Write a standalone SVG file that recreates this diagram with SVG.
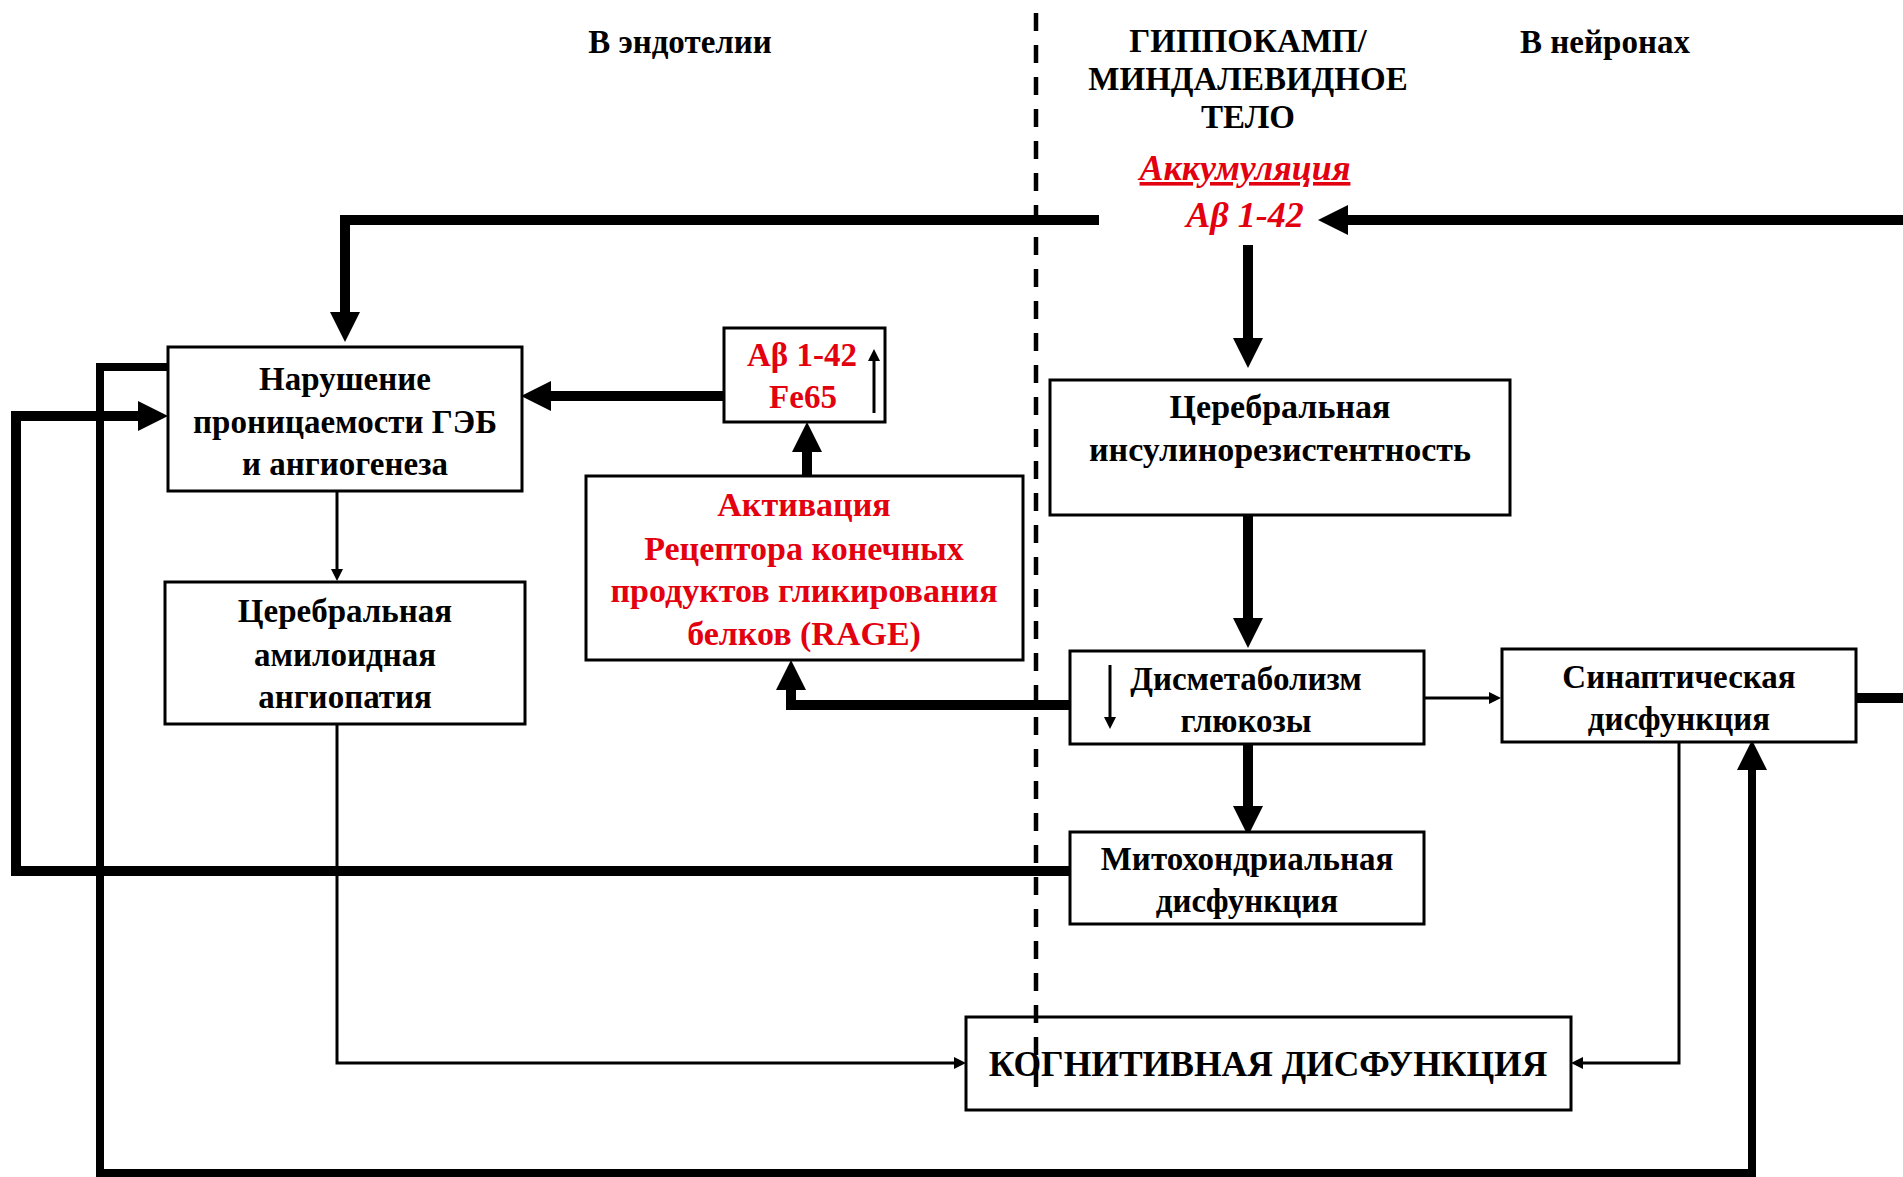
<svg xmlns="http://www.w3.org/2000/svg" width="1903" height="1177" viewBox="0 0 1903 1177">
<defs>
<style>
.t{font-family:"Liberation Serif","Times New Roman",serif;font-weight:bold;font-size:33px;fill:#000;text-anchor:middle}
.r{fill:#e3000f}
.s34{font-size:34px}
.it{font-size:36px;font-style:italic}
.big{font-size:35.5px}
.box{fill:#fff;stroke:#000;stroke-width:3}
.thick{fill:none;stroke:#000;stroke-width:10}
.mid{fill:none;stroke:#000;stroke-width:8}
.thin{fill:none;stroke:#000;stroke-width:3}
</style>
<marker id="ah" viewBox="0 0 30 30" refX="0" refY="15" markerWidth="30" markerHeight="30" markerUnits="userSpaceOnUse" orient="auto"><path d="M0,0 L30,15 L0,30 z" fill="#000"/></marker>
<marker id="as" viewBox="0 0 12 12" refX="0" refY="6" markerWidth="12" markerHeight="12" markerUnits="userSpaceOnUse" orient="auto"><path d="M0,0 L12,6 L0,12 z" fill="#000"/></marker>
</defs>
<rect width="1903" height="1177" fill="#fff"/>

<g id="headers">
<text class="t" x="680" y="53">В эндотелии</text>
<text class="t" x="1248" y="52">ГИППОКАМП/</text>
<text class="t" x="1248" y="90">МИНДАЛЕВИДНОЕ</text>
<text class="t" x="1248" y="128">ТЕЛО</text>
<text class="t" x="1605" y="53">В нейронах</text>
</g>

<g id="connectors">
<path class="thick" d="M1099,220 H345 V312" marker-end="url(#ah)"/>
<path class="thick" d="M1903,220 H1348" marker-end="url(#ah)"/>
<path class="thick" d="M1248,245 V338" marker-end="url(#ah)"/>
<path class="thick" d="M724,396 H551" marker-end="url(#ah)"/>
<path class="thick" d="M807,476 V452" marker-end="url(#ah)"/>
<path class="thick" d="M1070,705 H791 V690" marker-end="url(#ah)"/>
<path class="thin" d="M337,491 V569" marker-end="url(#as)"/>
<path class="thin" d="M337,724 V1063 H954" marker-end="url(#as)"/>
<path class="thick" d="M1248,515 V618" marker-end="url(#ah)"/>
<path class="thick" d="M1248,744 V806" marker-end="url(#ah)"/>
<path class="thin" d="M1424,698 H1489" marker-end="url(#as)"/>
<path class="thick" d="M1856,698 H1903"/>
<path class="thin" d="M1679,742 V1063 H1583" marker-end="url(#as)"/>
<path class="thick" d="M1070,871 H16 V416 H138" marker-end="url(#ah)"/>
<path class="mid" d="M168,367 H100 V1173 H1752 V770" marker-end="url(#ah)"/>
</g>

<g id="accum">
<text class="t r it" x="1245" y="180" text-decoration="underline">Аккумуляция</text>
<text class="t r it" x="1245" y="227">Aβ 1-42</text>
</g>

<g id="bbb">
<rect class="box" x="168" y="347" width="354" height="144"/>
<text class="t" x="345" y="390">Нарушение</text>
<text class="t" x="345" y="433">проницаемости ГЭБ</text>
<text class="t" x="345" y="475">и ангиогенеза</text>
</g>

<g id="abeta">
<rect class="box" x="724" y="328" width="161" height="94"/>
<text class="t r" x="802" y="366">Aβ 1-42</text>
<text class="t r" x="803" y="408">Fe65</text>
<path class="thin" d="M874,413 V361" marker-end="url(#as)"/>
</g>

<g id="rage">
<rect class="box" x="586" y="476" width="437" height="184"/>
<text class="t r s34" x="804" y="516">Активация</text>
<text class="t r s34" x="804" y="560">Рецептора конечных</text>
<text class="t r s34" x="804" y="602">продуктов гликирования</text>
<text class="t r s34" x="804" y="645">белков (RAGE)</text>
</g>

<g id="amyloid">
<rect class="box" x="165" y="582" width="360" height="142"/>
<text class="t" x="345" y="622">Церебральная</text>
<text class="t" x="345" y="666">амилоидная</text>
<text class="t" x="345" y="708">ангиопатия</text>
</g>

<g id="insulin">
<rect class="box" x="1050" y="380" width="460" height="135"/>
<text class="t s34" x="1280" y="418">Церебральная</text>
<text class="t s34" x="1280" y="461">инсулинорезистентность</text>
</g>

<g id="glucose">
<rect class="box" x="1070" y="651" width="354" height="93"/>
<path class="thin" d="M1110,665 V717" marker-end="url(#as)"/>
<text class="t" x="1246" y="690">Дисметаболизм</text>
<text class="t" x="1246" y="732">глюкозы</text>
</g>

<g id="synaptic">
<rect class="box" x="1502" y="649" width="354" height="93"/>
<text class="t" x="1679" y="688">Синаптическая</text>
<text class="t" x="1679" y="730">дисфункция</text>
</g>

<g id="mito">
<rect class="box" x="1070" y="832" width="354" height="92"/>
<text class="t" x="1247" y="870">Митохондриальная</text>
<text class="t" x="1247" y="912">дисфункция</text>
</g>

<g id="cognitive">
<rect class="box" x="966" y="1017" width="605" height="93"/>
<text class="t big" x="1268" y="1076">КОГНИТИВНАЯ ДИСФУНКЦИЯ</text>
</g>

<line id="divider" x1="1036" y1="13" x2="1036" y2="1098" stroke="#000" stroke-width="4.5" stroke-dasharray="18 14"/>
</svg>
